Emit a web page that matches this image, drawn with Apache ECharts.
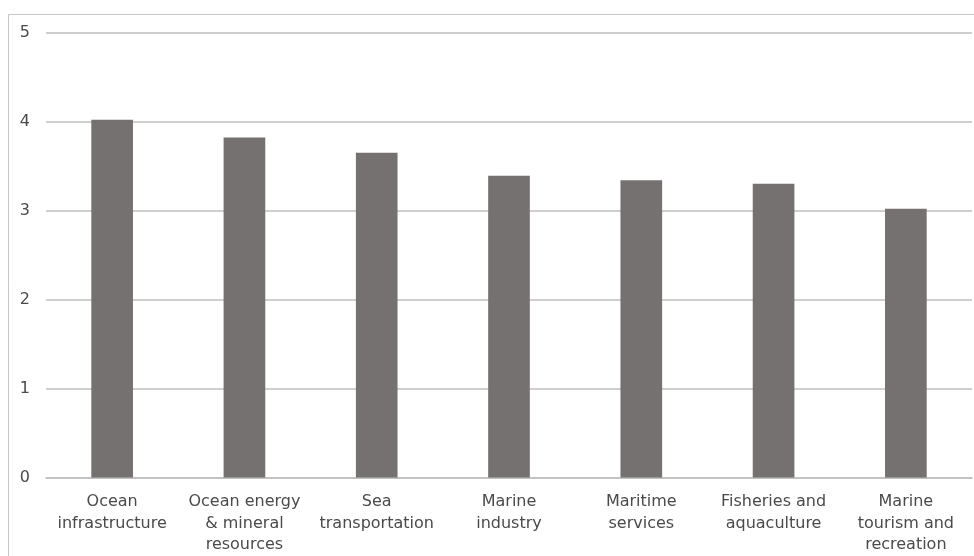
<!DOCTYPE html>
<html>
<head>
<meta charset="utf-8">
<script src="https://cdn.jsdelivr.net/npm/echarts@6/dist/echarts.min.js"></script>
<style>
html,body{margin:0;padding:0;background:#fff;}
#chart{width:974px;height:556px;}
</style>
</head>
<body>
<div id="chart"></div>
<script>
const categories = [
  "Ocean\ninfrastructure",
  "Ocean energy\n& mineral\nresources",
  "Sea\ntransportation",
  "Marine\nindustry",
  "Maritime\nservices",
  "Fisheries and\naquaculture",
  "Marine\ntourism and\nrecreation"
];
const values = [4.02, 3.82, 3.65, 3.39, 3.34, 3.30, 3.02];
const yMin = 0, yMax = 5, yStep = 1;

const chart = echarts.init(document.getElementById('chart'), null, {renderer: 'canvas'});
const font = "'DejaVu Sans', sans-serif";
chart.setOption({
  animation: false,
  backgroundColor: '#ffffff',
  graphic: [{
    type: 'rect',
    shape: {x: 8.5, y: 14.5, width: 980, height: 560},
    style: {fill: 'none', stroke: '#c6c6c6', lineWidth: 1},
    silent: true
  }],
  grid: {left: 46, right: 2, top: 32.5, bottom: 77.6, containLabel: false},
  xAxis: {
    type: 'category',
    data: categories,
    axisLine: {show: true, lineStyle: {color: '#bfbfbf', width: 1.5}},
    axisTick: {show: false},
    axisLabel: {
      interval: 0,
      color: '#4a4a4a',
      fontFamily: font,
      fontSize: 16,
      lineHeight: 21.5,
      margin: 14
    }
  },
  yAxis: {
    type: 'value',
    min: yMin, max: yMax, interval: yStep,
    axisLine: {show: false},
    axisTick: {show: false},
    splitLine: {show: true, lineStyle: {color: '#bfbfbf', width: 1.5}},
    axisLabel: {color: '#4a4a4a', fontFamily: font, fontSize: 16, margin: 16}
  },
  series: [{
    type: 'bar',
    data: values,
    barWidth: '31.5%',
    itemStyle: {color: '#767171'}
  }]
});
</script>
</body>
</html>
